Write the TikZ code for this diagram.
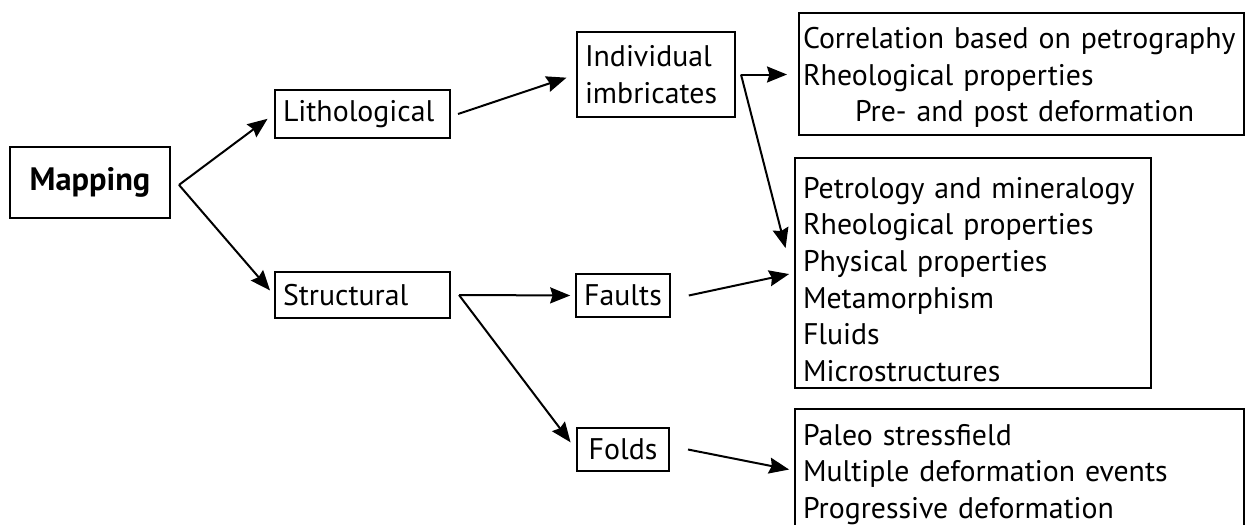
\documentclass[tikz,border=0pt]{standalone}
\usepackage{fontspec}
\setmainfont{PT Sans}
\usepackage{tikz}
\usetikzlibrary{arrows.meta,positioning}

\begin{document}
\begin{tikzpicture}[
    x=0.5pt, y=-0.5pt,
    font=\fontsize{14.9}{18.3}\selectfont,
    box/.style={draw, line width=1pt, inner ysep=0pt, inner xsep=4pt, align=left},
    line/.style={-{Stealth[length=10pt,width=8pt,inset=1.2pt]}, line width=1pt}
]
\useasboundingbox (0,0) rectangle (1249,525);
\node[box, align=center, minimum width=80pt, minimum height=35.5pt, font=\fontsize{16.2}{18.3}\selectfont\bfseries] (mapping) at (90,182.5) {Mapping};
\node[box, text width=79.5pt, minimum height=24pt] (litho) at (362.5,114) {Lithological};
\node[box, text width=79.5pt, minimum height=23pt] (struct) at (362.5,295) {Structural};
\node[box, inner xsep=4pt, text width=71pt, minimum height=42.5pt] (indiv) at (656,74.5) {Individual\\imbricates};
\node[box, align=center, minimum width=46pt, minimum height=21.5pt] (faults) at (623,295.5) {Faults};
\node[box, align=center, minimum width=46pt, minimum height=21.5pt] (folds) at (623,449.5) {Folds};
\node[box, inner xsep=2pt, text width=218.5pt, minimum height=61pt] (corr) at (1021.5,74)
    {\rule{0pt}{14pt}Correlation based on petrography\\Rheological properties\\\hspace*{26pt}Pre- and post deformation};
\node[box, text width=170pt, minimum height=115pt] (petro) at (973,273)
    {\rule{0pt}{17pt}Petrology and mineralogy\\Rheological properties\\Physical properties\\Metamorphism\\Fluids\\Microstructures};
\node[box, text width=216.5pt, minimum height=65.5pt] (paleo) at (1019.5,474.5)
    {Paleo stressfield\\Multiple deformation events\\Progressive deformation};
% split points
\coordinate (msplit) at ([xshift=4pt,yshift=-1.2pt]mapping.east);
\coordinate (ssplit) at ([xshift=4pt]struct.east);
\coordinate (isplit) at ([xshift=2.5pt]indiv.east);
\draw[line, shorten >=4pt] (msplit) -- (litho.west);
\draw[line, shorten >=3pt] (msplit) -- (struct.west);
\draw[line, shorten >=5pt] ([xshift=3.5pt]litho.east) -- (indiv.west);
\draw[line, shorten >=5.5pt] (isplit) -- (corr.west |- isplit);
\draw[line, shorten >=17pt] (isplit) -- ([yshift=-4pt]petro.west);
\draw[line, shorten >=2.5pt] (ssplit) -- (faults.west);
\draw[line, shorten >=4.5pt] (ssplit) -- (folds.west);
\draw[line, shorten >=2.5pt] ([xshift=9pt]faults.east) -- (petro.west);
\draw[line, shorten >=2.5pt] ([xshift=9pt]folds.east) -- ([yshift=2pt]paleo.west);
\end{tikzpicture}
\end{document}
